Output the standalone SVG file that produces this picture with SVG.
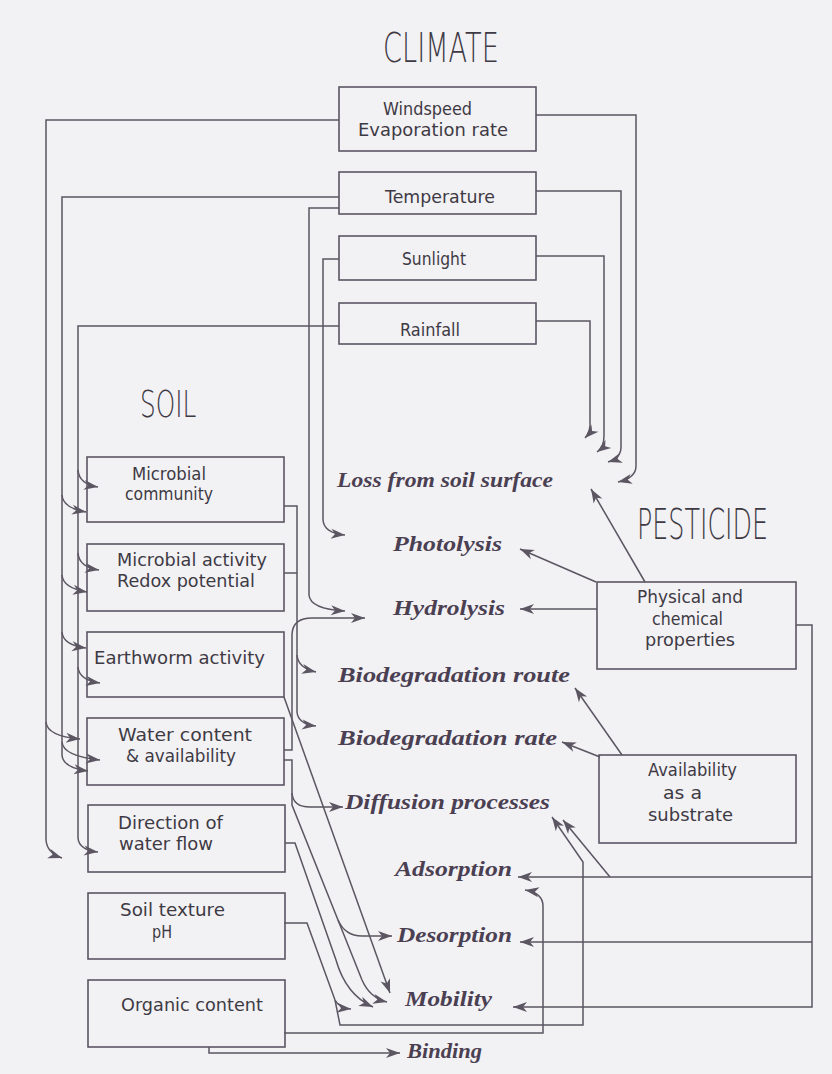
<svg xmlns="http://www.w3.org/2000/svg" width="832" height="1074" viewBox="0 0 832 1074">
<style>
.bg{fill:#f2f1f4}
.box{fill:none;stroke:#5b5662;stroke-width:1.6}
.ln{fill:none;stroke:#5b5662;stroke-width:1.5}
.ar{marker-end:url(#ah)}
.bt{font-family:"DejaVu Sans","Liberation Sans",sans-serif;font-size:18px;fill:#3e3a44}
.pt{font-family:"Liberation Serif","DejaVu Serif",serif;font-size:22px;font-weight:bold;font-style:italic;fill:#4a4052}
.tt{font-family:"DejaVu Sans","Liberation Sans",sans-serif;font-weight:200;fill:#3e3a44}
</style>
<defs>
<marker id="ah" markerUnits="userSpaceOnUse" markerWidth="15" markerHeight="11" refX="14" refY="5" orient="auto" overflow="visible">
<path d="M0,0 L14,5 L0,10 L4,5 Z" fill="#5b5662"/>
</marker>
</defs>
<rect class="bg" x="0" y="0" width="832" height="1074"/>

<g id="titles">
<text class="tt" transform="translate(383,62) scale(0.68,1)" font-size="40">CLIMATE</text>
<text class="tt" transform="translate(140,417) scale(0.67,1)" font-size="37">SOIL</text>
<text class="tt" transform="translate(637,539) scale(0.59,1)" font-size="43">PESTICIDE</text>
</g>

<g id="connectors">
<!-- climate left -->
<path class="ln ar" d="M339,120 H46 V840 Q47,853 62,858"/>
<path class="ln ar" d="M46,722 Q47,736 80,739"/>
<path class="ln ar" d="M339,197 H62 V755 Q63,768 88,771"/>
<path class="ln ar" d="M62,495 Q63,508 86,512"/>
<path class="ln ar" d="M62,575 Q63,588 87,592"/>
<path class="ln ar" d="M62,632 Q63,645 86,648"/>
<path class="ln ar" d="M62,742 Q63,756 100,760"/>
<path class="ln ar" d="M339,326 H78 V838 Q79,850 98,852"/>
<path class="ln ar" d="M78,470 Q79,484 98,487"/>
<path class="ln ar" d="M78,553 Q79,567 99,570"/>
<path class="ln ar" d="M78,667 Q79,680 100,683"/>
<path class="ln ar" d="M339,208 H309 V595 Q310,609 345,611"/>
<path class="ln ar" d="M339,259 H323 V520 Q324,533 345,535"/>
<!-- climate right -->
<path class="ln ar" d="M536,115 H636 V466 Q636,478 618,482"/>
<path class="ln ar" d="M536,191 H621 V447 Q621,458 608,462"/>
<path class="ln ar" d="M536,256 H604 V436 Q604,447 597,452"/>
<path class="ln ar" d="M536,321 H590 V420 Q591,432 585,438"/>
<!-- soil right -->
<path class="ln ar" d="M284,506 H297 V712 Q298,724 316,726"/>
<path class="ln" d="M284,573 H297"/>
<path class="ln ar" d="M297,655 Q298,668 316,672"/>
<path class="ln ar" d="M284,750 H292 V634 Q293,618 312,618 H365"/>
<path class="ln" d="M284,760 H292 V805 L338,920"/>
<path class="ln ar" d="M292,793 Q293,807 310,807 H343"/>
<path class="ln ar" d="M338,920 Q345,936 362,936 H392"/>
<path class="ln ar" d="M338,920 L362,980 Q370,998 387,1002"/>
<path class="ln ar" d="M284,697 L390,993"/>
<path class="ln ar" d="M285,843 H295 L336,960 Q346,995 373,1007"/>
<path class="ln ar" d="M284,923 H307 L335,1000 Q339,1008 351,1009"/>
<path class="ln ar" d="M335,1000 L340,1025 H583 V862 L552,817"/>
<path class="ln ar" d="M284,1033 H543 V906 Q543,893 525,890"/>
<path class="ln ar" d="M209,1047 V1053 H400"/>
<!-- pesticide -->
<path class="ln ar" d="M645,582 L591,489"/>
<path class="ln ar" d="M596,582 L520,549"/>
<path class="ln ar" d="M597,609 H520"/>
<path class="ln ar" d="M622,755 L575,688"/>
<path class="ln ar" d="M600,757 L562,742"/>
<path class="ln ar" d="M796,625 H812 V1007 H513"/>
<path class="ln ar" d="M812,877 H518"/>
<path class="ln ar" d="M812,942 H520"/>
<path class="ln ar" d="M610,877 L563,820"/>
</g>

<g id="windspeed">
<rect class="box" x="339" y="87" width="197" height="64"/>
<text class="bt" x="383" y="115" textLength="89" lengthAdjust="spacingAndGlyphs">Windspeed</text>
<text class="bt" x="358" y="136" textLength="150" lengthAdjust="spacingAndGlyphs">Evaporation rate</text>
</g>
<g id="temperature">
<rect class="box" x="339" y="172" width="197" height="42"/>
<text class="bt" x="385" y="203" textLength="110" lengthAdjust="spacingAndGlyphs">Temperature</text>
</g>
<g id="sunlight">
<rect class="box" x="339" y="236" width="197" height="44"/>
<text class="bt" x="402" y="265" textLength="64" lengthAdjust="spacingAndGlyphs">Sunlight</text>
</g>
<g id="rainfall">
<rect class="box" x="339" y="303" width="197" height="41"/>
<text class="bt" x="400" y="336" textLength="60" lengthAdjust="spacingAndGlyphs">Rainfall</text>
</g>

<g id="microbial-community">
<rect class="box" x="87" y="457" width="197" height="65"/>
<text class="bt" x="132" y="480" textLength="74" lengthAdjust="spacingAndGlyphs">Microbial</text>
<text class="bt" x="125" y="500" textLength="88" lengthAdjust="spacingAndGlyphs">community</text>
</g>
<g id="microbial-activity">
<rect class="box" x="87" y="544" width="197" height="67"/>
<text class="bt" x="117" y="566" textLength="150" lengthAdjust="spacingAndGlyphs">Microbial activity</text>
<text class="bt" x="117" y="587" textLength="138" lengthAdjust="spacingAndGlyphs">Redox potential</text>
</g>
<g id="earthworm">
<rect class="box" x="87" y="632" width="197" height="65"/>
<text class="bt" x="94" y="664" textLength="171" lengthAdjust="spacingAndGlyphs">Earthworm activity</text>
</g>
<g id="water-content">
<rect class="box" x="87" y="718" width="197" height="67"/>
<text class="bt" x="118" y="741" textLength="134" lengthAdjust="spacingAndGlyphs">Water content</text>
<text class="bt" x="126" y="762" textLength="110" lengthAdjust="spacingAndGlyphs">&amp; availability</text>
</g>
<g id="water-flow">
<rect class="box" x="88" y="805" width="197" height="67"/>
<text class="bt" x="118" y="829" textLength="105" lengthAdjust="spacingAndGlyphs">Direction of</text>
<text class="bt" x="119" y="850" textLength="94" lengthAdjust="spacingAndGlyphs">water flow</text>
</g>
<g id="soil-texture">
<rect class="box" x="88" y="893" width="197" height="66"/>
<text class="bt" x="120" y="916" textLength="105" lengthAdjust="spacingAndGlyphs">Soil texture</text>
<text class="bt" x="152" y="938" textLength="20" lengthAdjust="spacingAndGlyphs">pH</text>
</g>
<g id="organic-content">
<rect class="box" x="88" y="980" width="197" height="67"/>
<text class="bt" x="121" y="1011" textLength="142" lengthAdjust="spacingAndGlyphs">Organic content</text>
</g>

<g id="physical-chemical">
<rect class="box" x="597" y="582" width="199" height="87"/>
<text class="bt" x="637" y="603" textLength="106" lengthAdjust="spacingAndGlyphs">Physical and</text>
<text class="bt" x="652" y="625" textLength="71" lengthAdjust="spacingAndGlyphs">chemical</text>
<text class="bt" x="645" y="646" textLength="90" lengthAdjust="spacingAndGlyphs">properties</text>
</g>
<g id="availability">
<rect class="box" x="599" y="755" width="197" height="88"/>
<text class="bt" x="648" y="776" textLength="89" lengthAdjust="spacingAndGlyphs">Availability</text>
<text class="bt" x="663" y="799" textLength="39" lengthAdjust="spacingAndGlyphs">as a</text>
<text class="bt" x="648" y="821" textLength="85" lengthAdjust="spacingAndGlyphs">substrate</text>
</g>

<g id="processes">
<text id="loss" class="pt" x="337" y="487" textLength="216" lengthAdjust="spacingAndGlyphs">Loss from soil surface</text>
<text id="photolysis" class="pt" x="393" y="551" textLength="109" lengthAdjust="spacingAndGlyphs">Photolysis</text>
<text id="hydrolysis" class="pt" x="393" y="615" textLength="112" lengthAdjust="spacingAndGlyphs">Hydrolysis</text>
<text id="biodeg-route" class="pt" x="338" y="682" textLength="232" lengthAdjust="spacingAndGlyphs">Biodegradation route</text>
<text id="biodeg-rate" class="pt" x="338" y="745" textLength="219" lengthAdjust="spacingAndGlyphs">Biodegradation rate</text>
<text id="diffusion" class="pt" x="345" y="809" textLength="205" lengthAdjust="spacingAndGlyphs">Diffusion processes</text>
<text id="adsorption" class="pt" x="395" y="876" textLength="117" lengthAdjust="spacingAndGlyphs">Adsorption</text>
<text id="desorption" class="pt" x="397" y="942" textLength="115" lengthAdjust="spacingAndGlyphs">Desorption</text>
<text id="mobility" class="pt" x="405" y="1006" textLength="87" lengthAdjust="spacingAndGlyphs">Mobility</text>
<text id="binding" class="pt" x="407" y="1058" textLength="75" lengthAdjust="spacingAndGlyphs">Binding</text>
</g>
</svg>
